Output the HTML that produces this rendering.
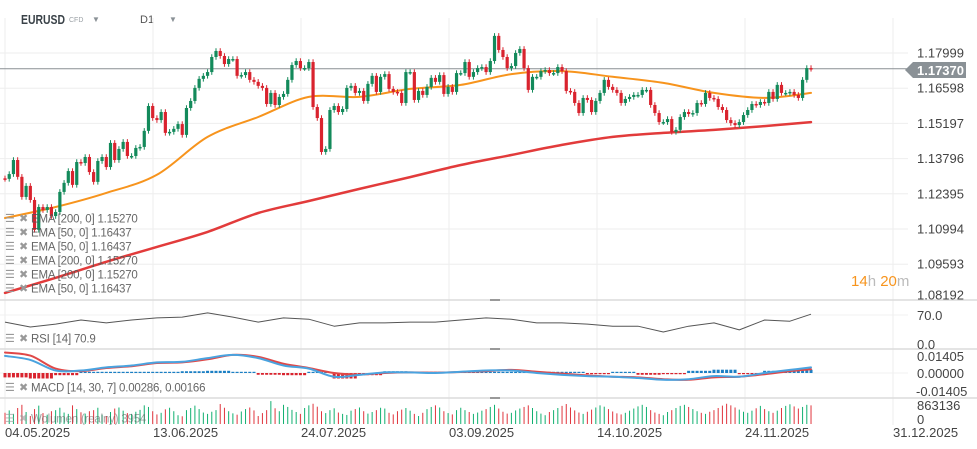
<!DOCTYPE html>
<html><head><meta charset="utf-8">
<style>
html,body{margin:0;padding:0;background:#fff;}
svg{display:block;font-family:"Liberation Sans",sans-serif;}
</style></head>
<body>
<svg id="chart" width="977" height="449" viewBox="0 0 977 449" xmlns="http://www.w3.org/2000/svg">
  <g>
    <text x="21" y="24" font-size="13" font-weight="bold" fill="#3a4248" textLength="44" lengthAdjust="spacingAndGlyphs">EURUSD</text>
    <text x="69" y="22" font-size="7" fill="#9aa0a5">CFD</text>
    <text x="92" y="22" font-size="8" fill="#8a9196">▼</text>
    <text x="140" y="23" font-size="11" fill="#555">D1</text>
    <text x="169" y="22" font-size="8" fill="#8a9196">▼</text>
  </g>
  <g id="grid"></g>
  <g id="panes"></g>
  <g id="ema200"></g>
  <g id="ema50"></g>
  <g id="candles"></g>
  <g id="rsi"></g>
  <g id="macd"></g>
  <g id="vol"></g>
  <g id="axes"></g>
  <g id="legend"></g>
  <text x="851" y="286" font-size="15"><tspan fill="#f7941d">14</tspan><tspan fill="#bbb">h </tspan><tspan fill="#f7941d">20</tspan><tspan fill="#bbb">m</tspan></text>
</svg>
<script>
const closes = [1.1299,1.1318,1.1374,1.1307,1.1227,1.1271,1.1215,1.1096,1.1187,1.1175,1.1187,1.1151,1.1167,1.1247,1.1283,1.1330,1.1275,1.1366,1.1362,1.1386,1.1326,1.1287,1.1370,1.1386,1.1346,1.1442,1.1374,1.1418,1.1446,1.1390,1.1390,1.1422,1.1426,1.1490,1.1589,1.1541,1.1533,1.1565,1.1482,1.1486,1.1498,1.1517,1.1474,1.1581,1.1609,1.1661,1.1697,1.1709,1.1724,1.1784,1.1808,1.1788,1.1756,1.1776,1.1776,1.1709,1.1712,1.1724,1.1693,1.1685,1.1669,1.1661,1.1597,1.1641,1.1593,1.1625,
1.1637,1.1693,1.1752,1.1768,1.1740,1.1740,1.1764,1.1585,1.1541,1.1406,1.1418,1.1573,1.1589,1.1565,1.1577,1.1661,1.1669,1.1641,1.1649,1.1609,1.1677,1.1709,1.1645,1.1705,1.1716,1.1657,1.1645,1.1641,1.1601,1.1724,1.1724,1.1613,1.1649,1.1633,1.1665,1.1701,1.1685,1.1712,1.1637,1.1665,1.1645,1.1720,1.1720,1.1764,1.1705,1.1724,1.1740,1.1744,1.1724,1.1768,1.1868,1.1812,1.1784,1.1740,1.1748,1.1800,1.1816,1.1740,1.1653,1.1705,1.1705,1.1728,1.1732,
1.1720,1.1720,1.1744,1.1728,1.1649,1.1645,1.1601,1.1561,1.1621,1.1613,1.1565,1.1609,1.1641,1.1693,1.1665,1.1653,1.1641,1.1601,1.1617,1.1625,1.1633,1.1633,1.1653,1.1653,1.1593,1.1561,1.1525,1.1525,1.1537,1.1486,1.1494,1.1545,1.1565,1.1557,1.1561,1.1601,1.1597,1.1641,1.1621,1.1617,1.1585,1.1573,1.1533,1.1521,1.1513,1.1525,1.1553,1.1573,1.1597,1.1593,1.1605,1.1601,1.1645,1.1617,1.1673,1.1641,1.1641,1.1645,1.1633,1.1621,1.1693,1.1740,1.1737];
const firstOpen = 1.1301;
const ema50Samples = [1.1143,1.1187,1.1243,1.1315,1.1466,1.1545,1.1625,1.1625,1.1657,1.1673,1.1716,1.1728,1.1705,1.1681,1.1641,1.1621,1.1641];
const ema200Samples = [1.0845,1.0905,1.0969,1.1028,1.1088,1.1163,1.1211,1.1259,1.1306,1.1354,1.1394,1.1434,1.1466,1.1482,1.1494,1.1509,1.1525];
const rsiValues = [53,41,48,58,51,58,63,65,75,65,53,63,60,43,51,51,53,53,58,63,60,51,51,48,43,43,29,43,51,34,58,55,72];
const macdValues = [0.0137,0.0105,0.0020,0.0020,0.0045,0.0060,0.0085,0.0090,0.0120,0.0145,0.0120,0.0060,0.0035,-0.0030,-0.0015,0.0005,0.0005,0.0000,0.0010,0.0020,0.0020,0.0000,-0.0015,-0.0025,-0.0030,-0.0040,-0.0055,-0.0050,-0.0025,-0.0030,0.0000,0.0025,0.0045];
const signalValues = [0.0165,0.0140,0.0035,0.0015,0.0040,0.0055,0.0080,0.0085,0.0110,0.0145,0.0130,0.0075,0.0040,0.0000,-0.0012,0.0000,0.0005,0.0003,0.0008,0.0015,0.0025,0.0010,-0.0005,-0.0020,-0.0030,-0.0035,-0.0050,-0.0055,-0.0035,-0.0030,-0.0010,0.0015,0.0030];
const histValues = [-2.0,-2.5,-1.0,0.3,0.5,0.5,0.5,0.8,1.0,0.3,-0.8,-1.0,0.3,-2.5,-1.0,0.8,0.5,0.5,0.5,0.5,0.3,0.5,0.5,-0.5,0.5,-0.8,-0.5,1.0,1.5,-0.5,1.0,1.5,2.0];
const volumes = [420,510,380,600,720,450,300,560,690,410,350,480,520,610,430,380,700,560,440,390,480,520,610,350,300,450,580,620,500,410,380,460,530,700,640,480,360,420,550,610,480,330,290,520,600,690,560,430,380,460,520,750,610,480,400,350,470,560,620,510,300,410,520,860,590,480,720,640,530,450,380,600,700,760,650,480,410,520,590,430,380,340,500,560,620,480,390,450,520,610,580,420,360,480,540,600,500,380,300,420,560,640,700,620,480,410,360,520,610,520,450,380,430,500,560,640,720,580,460,390,420,510,580,640,700,600,480,390,330,450,520,600,680,750,620,510,430,380,460,540,620,700,650,560,470,400,360,420,500,580,660,720,640,520,430,380,330,450,520,600,680,720,640,560,480,420,380,460,520,600,690,760,700,620,540,460,420,500,590,680,560,480,420,500,600,680,740,660,580,640,720,700];
const priceTicks = ["1.17999","1.16598","1.15197","1.13796","1.12395","1.10994","1.09593","1.08192"];
const dateTicks = ["04.05.2025","13.06.2025","24.07.2025","03.09.2025","14.10.2025","24.11.2025","31.12.2025"];
const legendRows = ["EMA [200, 0] 1.15270","EMA [50, 0] 1.16437","EMA [50, 0] 1.16437","EMA [200, 0] 1.15270","EMA [200, 0] 1.15270","EMA [50, 0] 1.16437"];

const NS = "http://www.w3.org/2000/svg";
function mk(parent, tag, attrs){const e=document.createElementNS(NS,tag);for(const k in attrs)e.setAttribute(k,attrs[k]);parent.appendChild(e);return e;}
const xi = i => 5 + i*4.22;
const py = p => 53 + (1.17999 - p) * 2512.5;
const ry = v => 344 - v*0.414;
const my = v => 373 - v*1245;
const vBase = 424, vMax = 863136;
const vy = v => vBase - v*1000/vMax*23;
const SAMPLE = 6, EMASTEP = 12;
const sx = (k, step, n) => xi(Math.min(k*step, n-1));

const grid = document.getElementById('grid');
priceTicks.forEach((t,k)=>{ if(k<7){const l=mk(grid,'line',{x1:0,x2:908,y1:53+k*35.2,y2:53+k*35.2,stroke:'#eeeeee','stroke-width':1});

}});
dateTicks.forEach((t,k)=>{const x=5+k*148;const l=mk(grid,'line',{x1:x,x2:x,y1:18,y2:425,stroke:'#eeeeee','stroke-width':1});

});
[315,373].forEach(y=>{const l=mk(grid,'line',{x1:0,x2:908,y1:y,y2:y,stroke:'#f0f0f0'});

});

const panes = document.getElementById('panes');
[300,349,398].forEach(y=>{const l=mk(panes,'line',{x1:0,x2:977,y1:y,y2:y,stroke:'#dcdcdc','stroke-width':1.5});


const h=mk(panes,'line',{x1:490,x2:500,y1:y,y2:y,stroke:'#999','stroke-width':2});

});
const cur=mk(panes,'line',{x1:0,x2:910,y1:py(closes[closes.length-1]),y2:py(closes[closes.length-1]),stroke:'#8a8f93','stroke-width':1});



function line(gid, xs, ys, color, w, name, op){
  const g=document.getElementById(gid);
  const pts=xs.map((x,k)=>x.toFixed(1)+','+ys[k].toFixed(1)).join(' ');
  const p=mk(g,'polyline',{points:pts,fill:'none',stroke:color,'stroke-width':w,'stroke-linejoin':'round','stroke-opacity':op||1});
  
  
}
function smooth(gid, xs, ys, color, w, name){
  const g=document.getElementById(gid);
  let d='M'+xs[0].toFixed(1)+','+ys[0].toFixed(1);
  for(let k=0;k<xs.length-1;k++){
    const x0=xs[Math.max(0,k-1)],y0=ys[Math.max(0,k-1)],x1=xs[k],y1=ys[k],x2=xs[k+1],y2=ys[k+1];
    const x3=xs[Math.min(xs.length-1,k+2)],y3=ys[Math.min(xs.length-1,k+2)];
    const c1x=x1+(x2-x0)/6,c1y=y1+(y2-y0)/6,c2x=x2-(x3-x1)/6,c2y=y2-(y3-y1)/6;
    d+=' C'+c1x.toFixed(1)+','+c1y.toFixed(1)+' '+c2x.toFixed(1)+','+c2y.toFixed(1)+' '+x2.toFixed(1)+','+y2.toFixed(1);
  }
  const p=mk(g,'path',{d:d,fill:'none',stroke:color,'stroke-width':w,'stroke-linecap':'round'});
  
  
}
const n = closes.length;
smooth('ema200', ema200Samples.map((v,k)=>sx(k,EMASTEP,n)), ema200Samples.map(py), '#e23b3b', 2.5, 'ema-200');
smooth('ema50', ema50Samples.map((v,k)=>sx(k,EMASTEP,n)), ema50Samples.map(py), '#f7941d', 2, 'ema-50');

const cg=document.getElementById('candles');
const vg=document.getElementById('vol');
closes.forEach((c,i)=>{
  const o = i===0 ? firstOpen : closes[i-1];
  const up = c>=o;
  const col = up ? '#138a5b' : '#d9232e';
  const x = xi(i);
  const hi = Math.max(o,c)+0.0011, lo = Math.min(o,c)-0.0011;
  const w=mk(cg,'line',{x1:x,x2:x,y1:py(hi),y2:py(lo),stroke:col,'stroke-width':1});
  
  
  const top=py(Math.max(o,c)), bot=py(Math.min(o,c));
  const b=mk(cg,'rect',{x:x-1.6,y:top,width:3.2,height:Math.max(1.5,bot-top),fill:col});
  
  
  const vb=mk(vg,'line',{x1:x,x2:x,y1:vBase,y2:vy(volumes[i]),stroke:up?'#10b070':'#e0343c','stroke-width':1});
  
  
  const hv = histValues[Math.floor(i/SAMPLE)];
  const hh = Math.max(1.2, Math.abs(hv)*2.2);
  const hb=mk(document.getElementById('macd'),'rect',{x:x-1.5,y:hv>=0?373-hh:373,width:3,height:hh,fill:hv>=0?'#1b7fc4':'#d9232e'});
  
  
});

line('rsi', rsiValues.map((v,k)=>sx(k,SAMPLE,n)), rsiValues.map(ry), '#555', 1, 'rsi-line');
smooth('macd', signalValues.map((v,k)=>sx(k,SAMPLE,n)), signalValues.map(my), '#e04848', 2, 'macd-signal-line');
smooth('macd', macdValues.map((v,k)=>sx(k,SAMPLE,n)), macdValues.map(my), '#4aa3df', 2, 'macd-line');

const ax=document.getElementById('axes');
function txt(parent,x,y,s,attrs,name,inter){const t=mk(parent,'text',Object.assign({x:x,y:y,'font-size':13,fill:'#444'},attrs||{}));t.textContent=s;

return t;}
priceTicks.forEach((t,k)=>{const y = k<7 ? 53+k*35.2 : 295; txt(ax,917,y+4.5,t,{},'price-tick-label');});
dateTicks.forEach((t,k)=>txt(ax,5+k*148,437,t,{},'date-tick-label'));
txt(ax,917,320,'70.0',{},'rsi-tick-label');
txt(ax,917,349,'0.0',{},'rsi-tick-label');
txt(ax,917,361,'0.01405',{},'macd-tick-label');
txt(ax,917,378,'0.00000',{},'macd-tick-label');
txt(ax,916,396,'-0.01405',{},'macd-tick-label');
txt(ax,917,410,'863136',{},'volume-tick-label');
txt(ax,917,424,'0',{},'volume-tick-label');
const tag=mk(ax,'path',{d:'M905,70 L913,62 L966,62 L966,78 L913,78 Z',fill:'#8a9196'});


txt(ax,917,75,'1.17370',{fill:'#fff','font-weight':'bold'},'current-price-label');

const lg=document.getElementById('legend');
function legendRow(y,s,name){
  const g=mk(lg,'g',{});
  
  
  const ic=mk(g,'text',{x:5,y:y+4,'font-size':11,fill:'#999'});ic.textContent='☰';
  
  
  const cl=mk(g,'text',{x:19,y:y+4,'font-size':11,fill:'#999'});cl.textContent='✖';
  
  
  txt(g,31,y+4.5,s,{'font-size':11.5,fill:'#555','fill-opacity':0.9,'letter-spacing':'-0.2px'},name+'-text');
}
legendRows.forEach((s,k)=>legendRow(218+k*14,s,'ema-legend-entry'));
legendRow(338,'RSI [14] 70.9','rsi-legend');
legendRow(387,'MACD [14, 30, 7] 0.00286,  0.00166','macd-legend');
legendRow(418,'Wolumen (realny) 3954','volume-legend');
lg.lastChild.setAttribute('opacity','0.6');
</script>
</body></html>
